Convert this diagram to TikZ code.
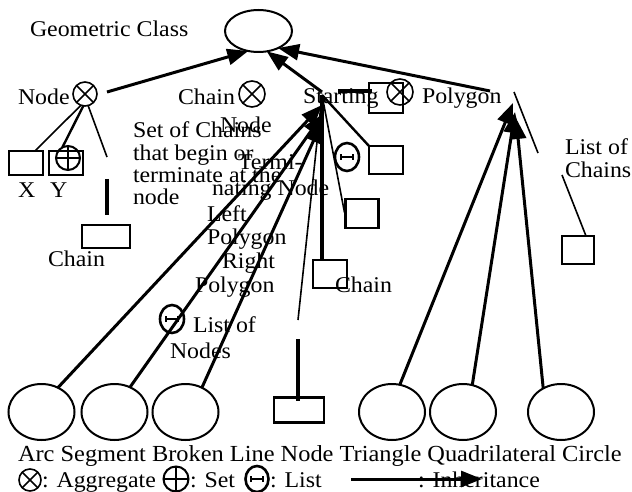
\documentclass[tikz,border=0pt]{standalone}
\usepackage{fontspec}
\setmainfont{Liberation Serif}[FakeStretch=1.06]
\usetikzlibrary{arrows.meta,shapes.geometric,calc}
\newcommand{\mlines}[1]{\begin{tabular}[t]{@{}l@{}}#1\end{tabular}}
\begin{document}
\begin{tikzpicture}[x=1pt,y=-1pt,
  every node/.style={inner sep=0pt,outer sep=0pt},
  lbl/.style={anchor=base west,font=\fontsize{22.5}{21.5}\selectfont},
  inh/.style={line width=3pt,-{Triangle[length=21pt,width=16pt]}},
  lnthin/.style={line width=1.6pt},
  lnmid/.style={line width=2.4pt},
  lnthick/.style={line width=3.2pt},
  sqbox/.style={draw,rectangle,line width=2.6pt},
  ell/.style={draw,ellipse,line width=2pt,minimum width=66pt,minimum height=56pt},
  otimes/.style={circle,draw,line width=1.6pt,minimum size=#1,
    path picture={\draw[line width=1.6pt]
      (path picture bounding box.north west)--(path picture bounding box.south east)
      (path picture bounding box.north east)--(path picture bounding box.south west);}},
  oplus/.style={circle,draw,line width=2pt,minimum size=#1,
    path picture={\draw[line width=2pt]
      (path picture bounding box.north)--(path picture bounding box.south)
      (path picture bounding box.east)--(path picture bounding box.west);}},
  thetasym/.style={ellipse,draw,line width=2.6pt,minimum width=24pt,minimum height=28pt,
    path picture={\draw[line width=1.6pt]
      ([xshift=-6pt]path picture bounding box.center)--([xshift=6pt]path picture bounding box.center)
      ([xshift=-6pt,yshift=-3pt]path picture bounding box.center)--([xshift=-6pt,yshift=3pt]path picture bounding box.center)
      ([xshift=6pt,yshift=-3pt]path picture bounding box.center)--([xshift=6pt,yshift=3pt]path picture bounding box.center);}}
]
\useasboundingbox (0,0) rectangle (632,492);

% ---------- texts ----------
\node[lbl] (tGC) at (30,37) {Geometric Class};
\node[lbl] (tNode) at (18,105) {Node};
\node[lbl] (tChain) at (178,105) {Chain};
\node[lbl] (tStart) at (303,104) {Starting};
\node[lbl] (tPoly) at (422,104) {Polygon};
\node[lbl] (tStartNode) at (220,133) {Node};
\node[lbl] (tSet) at (133,138) {\mlines{Set of Chains\\that begin or\\terminate at the\\node}};
\node[lbl] (tTermi) at (238,170) {Termi-};
\node[lbl] (tNating) at (212,196) {nating Node};
\node[lbl] (tLeft) at (207,222) {\mlines{Left\\Polygon}};
\node[lbl] (tRight) at (222,268) {Right};
\node[lbl] (tRPoly) at (195,292) {Polygon};
\node[lbl] (tListN) at (193,332) {List of};
\node[lbl] (tNodes) at (170,358) {Nodes};
\node[lbl] (tChainM) at (335,292) {Chain};
\node[lbl] (tChainL) at (48,266) {Chain};
\node[lbl] (tX) at (18,197) {X};
\node[lbl] (tY) at (50,197) {Y};
\node[lbl] (tListC) at (565,155) {\mlines{List of\\Chains}};
% bottom labels
\node[lbl,font=\fontsize{23}{23}\selectfont] (lBottom) at (18,461) {Arc Segment Broken Line Node Triangle Quadrilateral Circle};

% ---------- shapes ----------
\node[ell,minimum width=67pt,minimum height=42pt] (gc) at (258.5,31) {};
\node[otimes=24pt] (nodeX) at (85,94) {};
\node[otimes=26pt] (chainX) at (252,94) {};
\node[sqbox,minimum width=34pt,minimum height=30pt] (sbox) at (386,98) {};
\node[otimes=26pt] (startX) at (400,92) {};
\node[sqbox,minimum width=34pt,minimum height=24pt] (xbox) at (26,163) {};
\node[sqbox,minimum width=34pt,minimum height=24pt] (ybox) at (66,163) {};
\node[oplus=24pt] (yplus) at (68,158) {};
\node[sqbox,minimum width=48pt,minimum height=23pt] (chainbox) at (106,236.5) {};
\node[sqbox,minimum width=34pt,minimum height=28pt] (sq1) at (386,160) {};
\node[thetasym] (theta1) at (347,157) {};
\node[sqbox,minimum width=33pt,minimum height=29pt] (sq2) at (362,213.5) {};
\node[sqbox,minimum width=34pt,minimum height=28pt] (sq3) at (330,274) {};
\node[sqbox,minimum width=50pt,minimum height=25pt] (nrect) at (299,410) {};
\node[thetasym] (theta2) at (172,319) {};
\node[sqbox,minimum width=32pt,minimum height=28pt] (lbox) at (578,250) {};
\node[ell] (arc) at (41.5,412) {};
\node[ell] (seg) at (114.5,412) {};
\node[ell] (bro) at (185.5,412) {};
\node[ell] (tri) at (392,412) {};
\node[ell] (qua) at (463,412) {};
\node[ell] (cir) at (561,412) {};

% ---------- coordinates ----------
\coordinate (S) at (322,95);
\coordinate (SA) at (322,92);
\coordinate (tipA) at (322,105);
\coordinate (tipB) at (323,114);
\coordinate (tipC) at (322,122);
\coordinate (P) at (490,91);
\coordinate (tipT) at (513,103);
\coordinate (tipQ) at (515,112);
\coordinate (tipCi) at (516,118);
\coordinate (nodeStart) at (107,92);
\coordinate (c1) at (107,157);
\coordinate (c2) at (107,179);
\coordinate (n1) at (298,320);
\coordinate (n2) at (298,339);
\coordinate (sl) at (338,91);
\coordinate (pl1) at (514,92);
\coordinate (pl2) at (538,153);
\coordinate (lc) at (562,175);

% ---------- connectors ----------
\draw[inh] (nodeStart) -- (gc.243);
\draw[inh] (SA) -- (gc.-68);
\draw[inh] (P) -- (gc.-41);

\draw[lnthin] (nodeX.250) -- ($(xbox.north east)+(-8,0)$);
\draw[lnmid] (nodeX.262) -- (yplus.118);
\draw[lnthin] (nodeX.285) -- (c1);
\draw[lnthick] (c2) -- ($(chainbox.north)+(1,-10)$);

\draw[lnthick] (sl) -- ($(sl -| sbox.west)+(3,0)$);
\draw[lnmid] (S) -- (sq1.north west);
\draw[lnthin] (S) -- ($(sq2.west)+(-1,-1)$);
\draw[lnthick] (S) -- (S |- sq3.north);
\draw[lnthin] (S) -- (n1);
\draw[lnthick] (n2) -- ($(n2 |- nrect.north)+(0,3)$);

\draw[inh] (arc.56) -- (tipA);
\draw[inh] (seg.58) -- (tipB);
\draw[inh] (bro.56) -- (tipC);
\draw[inh] (tri.74) -- (tipT);
\draw[inh] (qua.71) -- (tipQ);
\draw[inh] (cir.127) -- (tipCi);

\draw[lnthin] (pl1) -- (pl2);
\draw[lnthin] (lc) -- ($(lbox.north)+(8,0)$);

% ---------- legend ----------
\node[otimes=22pt] (legX) at (30,480) {};
\node[lbl] (legXt) at (42,487) {: Aggregate};
\node[oplus=25pt] (legP) at (176,479) {};
\node[lbl] (legPt) at (190,487) {: Set};
\node[thetasym,minimum width=23pt,minimum height=26pt] (legT) at (257,479) {};
\node[lbl] (legTt) at (270,487) {: List};
\node[lbl] (legIt) at (418,487) {: Inheritance};
\coordinate (la1) at (351,479);
\coordinate (la2) at (482,479);
\draw[inh] (la1) -- (la2);
\end{tikzpicture}
\end{document}
